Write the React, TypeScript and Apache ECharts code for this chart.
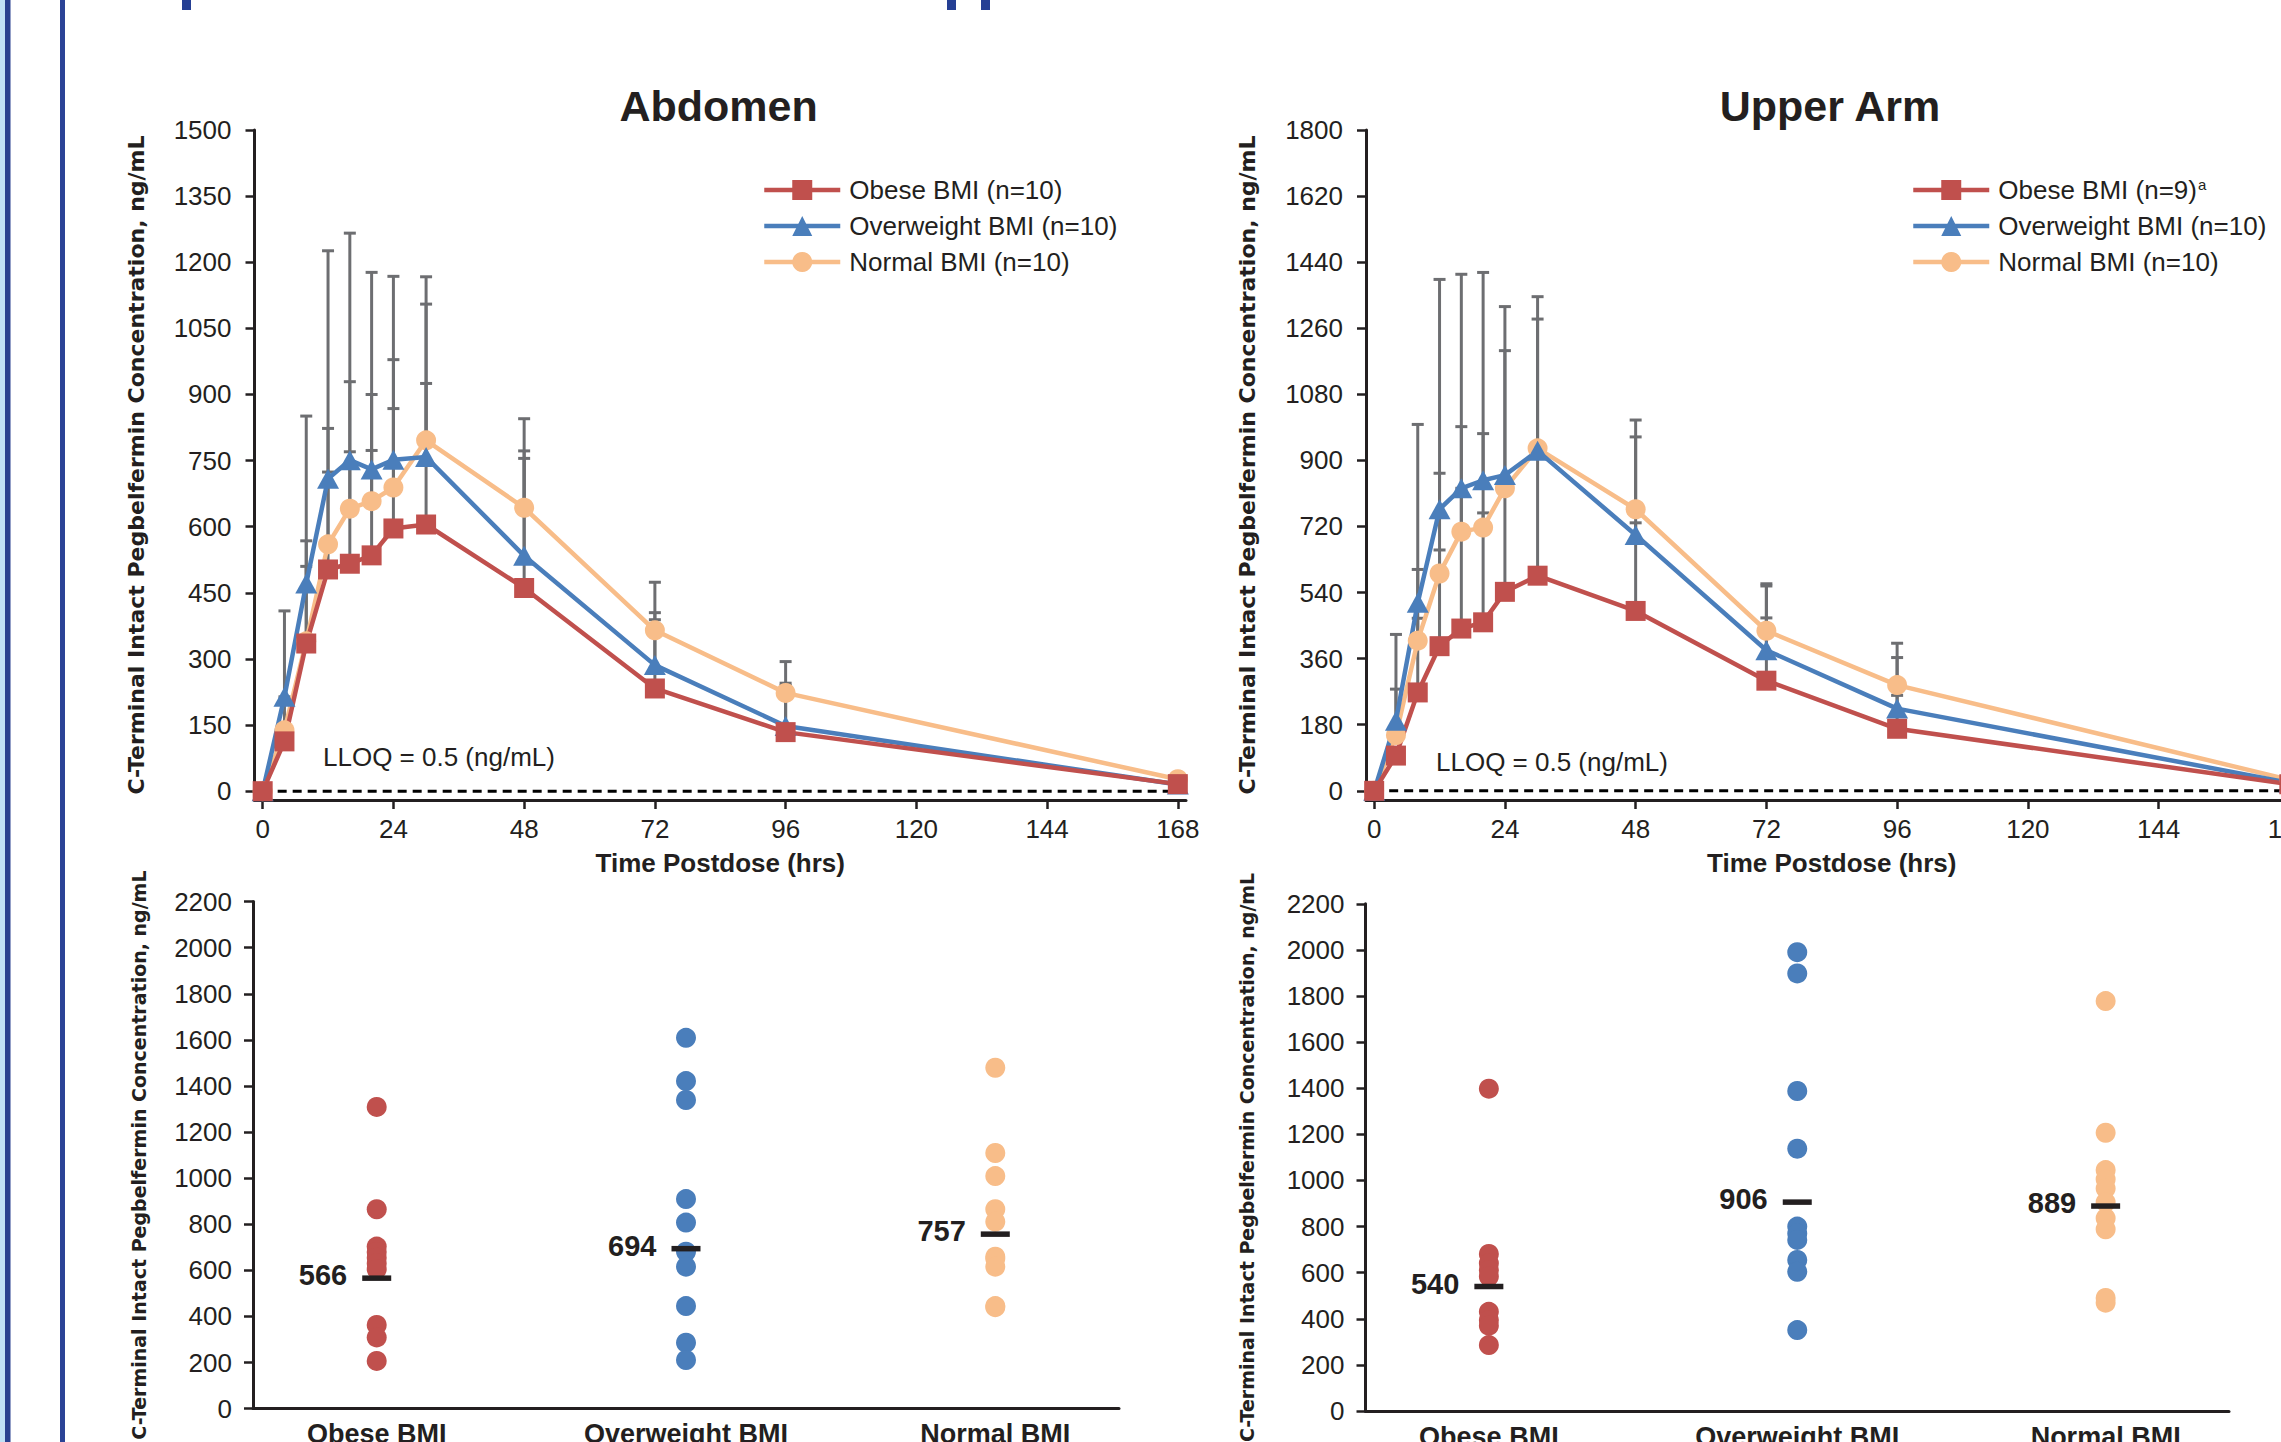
import { useEffect, useRef } from 'react';
import * as echarts from 'echarts';

// ---------- data ----------
const TIME_HRS = [0, 4, 8, 12, 16, 20, 24, 30, 48, 72, 96, 168];
const TIME_TICKS = [0, 24, 48, 72, 96, 120, 144, 168];
const ABD_TICKS = [0, 150, 300, 450, 600, 750, 900, 1050, 1200, 1350, 1500];
const ARM_TICKS = [0, 180, 360, 540, 720, 900, 1080, 1260, 1440, 1620, 1800];
const STRIP_TICKS = [0, 200, 400, 600, 800, 1000, 1200, 1400, 1600, 1800, 2000, 2200];
const GROUPS = ['Obese BMI', 'Overweight BMI', 'Normal BMI'];
const LLOQ_SPAN = [0, 169.5];
const LLOQ_TEXT = 'LLOQ = 0.5 (ng/mL)';

// Abdomen mean concentration (ng/mL)
const ABD_OBESE = [0, 113, 335, 503, 516, 535, 596, 605, 461, 233, 134, 16];
const ABD_OVER = [0, 214, 471, 709, 751, 730, 752, 758, 534, 286, 148, 15];
const ABD_NORMAL = [0, 138, 340, 560, 641, 658, 689, 796, 643, 365, 223, 27];
// upper end of error bars (mean + SD)
const ABD_OBESE_TOP = [null, 214, 510, 724, 770, 773, 868, 925, 755, 389, 240, null];
const ABD_OVER_TOP = [null, 409, 851, 1226, 1266, 1177, 1168, 1167, 772, 405, 245, null];
const ABD_NORMAL_TOP = [null, null, 568, 823, 929, 900, 979, 1105, 845, 474, 294, null];

// Upper arm mean concentration (ng/mL)
const ARM_OBESE = [0, 96, 268, 394, 442, 459, 542, 586, 490, 300, 169, 18];
const ARM_OVER = [0, 191, 512, 767, 824, 846, 860, 926, 697, 383, 224, 22];
const ARM_NORMAL = [0, 152, 409, 592, 706, 717, 824, 933, 767, 436, 288, 30];
const ARM_OBESE_TOP = [null, null, 470, 656, 824, 757, 840, 930, 730, 471, 260, null];
const ARM_OVER_TOP = [null, 426, 998, 1393, 1407, 1412, 1319, 1346, 1010, 558, 363, null];
const ARM_NORMAL_TOP = [null, 277, 603, 865, 992, 973, 1199, 1285, 964, 564, 402, null];

// Individual Cmax values
const ABD_STRIP_OBESE = [1309, 865, 703, 680, 655, 630, 605, 363, 309, 207];
const ABD_STRIP_OVER = [1609, 1421, 1339, 909, 807, 681, 616, 445, 286, 211];
const ABD_STRIP_NORMAL = [1479, 1109, 1009, 865, 811, 659, 650, 616, 445, 440];
const ABD_MEANS = [566, 694, 757];

const ARM_STRIP_OBESE = [1398, 681, 641, 612, 583, 430, 395, 370, 286];
const ARM_STRIP_OVER = [1990, 1898, 1388, 1138, 800, 770, 742, 655, 604, 351];
const ARM_STRIP_NORMAL = [1778, 1207, 1045, 1005, 965, 905, 836, 788, 490, 470];
const ARM_MEANS = [540, 906, 889];

const ABD_NAMES = ['Obese BMI (n=10)', 'Overweight BMI (n=10)', 'Normal BMI (n=10)'];
const ARM_NAMES = ['Obese BMI (n=9)a', 'Overweight BMI (n=10)', 'Normal BMI (n=10)'];
const Y_TITLE = 'C-Terminal Intact Pegbelfermin Concentration, ng/mL';

// ---------- styles ----------
const FONT = '"Liberation Sans", Arial, Helvetica, sans-serif';
const TITLE_FONT = '"DejaVu Sans", "Liberation Sans", Arial, sans-serif';
const INK = '#231f20';
const RED = '#c0504d';
const BLUE = '#4a7ebb';
const ORANGE = '#f8bd89';
const GRAY = '#6d6e71';
const W = 2281;
const H = 1442;

const axisLine = { show: true, onZero: false, lineStyle: { color: INK, width: 3 } };
const plain = (v: number) => String(v);

function timeAxis(gridIndex: number) {
  return {
    type: 'value', gridIndex, min: -1.5, max: 169.5,
    axisLine,
    axisTick: { show: true, length: 9, lineStyle: { color: INK, width: 2.5 }, customValues: TIME_TICKS },
    axisLabel: { show: true, customValues: TIME_TICKS, formatter: plain, fontSize: 26, fontFamily: FONT, color: INK, margin: 16 },
    splitLine: { show: false },
    name: 'Time Postdose (hrs)', nameLocation: 'middle', nameGap: 50,
    nameTextStyle: { fontSize: 26, fontWeight: 'bold', fontFamily: FONT, color: INK },
  };
}

function concAxis(gridIndex: number, min: number, max: number, ticks: number[], nameGap: number, nameSize: number, margin: number) {
  return {
    type: 'value', gridIndex, min, max,
    axisLine,
    axisTick: { show: true, length: 9, lineStyle: { color: INK, width: 2.5 }, customValues: ticks },
    axisLabel: { show: true, customValues: ticks, formatter: plain, fontSize: 26, fontFamily: FONT, color: INK, margin },
    splitLine: { show: false },
    name: Y_TITLE, nameLocation: 'middle', nameGap,
    nameTextStyle: { fontSize: nameSize, fontWeight: 'bold', fontFamily: TITLE_FONT, color: INK },
  };
}

function groupAxis(gridIndex: number) {
  return {
    type: 'value', gridIndex, min: 0.6, max: 3.4,
    axisLine,
    axisTick: { show: false },
    axisLabel: {
      show: true, customValues: [1, 2, 3], formatter: (v: number) => GROUPS[Math.round(v) - 1],
      fontSize: 27, fontWeight: 'bold', fontFamily: FONT, color: INK, margin: 12,
    },
    splitLine: { show: false },
  };
}

function lineSeries(name: string, values: number[], color: string, symbol: string, size: any, idx: number) {
  return {
    type: 'line', name, xAxisIndex: idx, yAxisIndex: idx,
    data: TIME_HRS.map((t, i) => [t, values[i]]),
    symbol, symbolSize: size, showSymbol: true,
    lineStyle: { color, width: 4.5 }, itemStyle: { color },
    z: 4, silent: true,
  };
}

function errorSeries(values: number[], tops: (number | null)[], idx: number) {
  const data = TIME_HRS.map((t, i) => (tops[i] == null ? null : [t, values[i], tops[i]])).filter(Boolean);
  return {
    type: 'custom', xAxisIndex: idx, yAxisIndex: idx, data, z: 2, silent: true,
    encode: { x: 0, y: [1, 2] },
    renderItem: (_p: any, api: any) => {
      const a = api.coord([api.value(0), api.value(1)]);
      const b = api.coord([api.value(0), api.value(2)]);
      const style = { stroke: GRAY, lineWidth: 3 };
      return {
        type: 'group',
        children: [
          { type: 'line', shape: { x1: a[0], y1: a[1], x2: b[0], y2: b[1] }, style },
          { type: 'line', shape: { x1: b[0] - 6, y1: b[1], x2: b[0] + 6, y2: b[1] }, style },
        ],
      };
    },
  };
}

function lloqSeries(idx: number) {
  return {
    type: 'line', xAxisIndex: idx, yAxisIndex: idx,
    data: LLOQ_SPAN.map((t) => [t, 0]), symbol: 'none', silent: true, z: 1,
    lineStyle: { color: '#000', width: 3, type: [9, 6] },
  };
}

function stripSeries(values: number[], cat: number, color: string, idx: number) {
  return {
    type: 'scatter', xAxisIndex: idx, yAxisIndex: idx,
    data: values.map((v) => [cat, v]), symbol: 'circle', symbolSize: 20,
    itemStyle: { color, opacity: 1 }, z: 3, silent: true,
  };
}

function meanSeries(means: number[], idx: number) {
  return {
    type: 'scatter', xAxisIndex: idx, yAxisIndex: idx,
    data: means.map((m, i) => [i + 1, m]), symbol: 'rect', symbolSize: [29, 5.5],
    itemStyle: { color: INK, opacity: 1 }, z: 6, silent: true,
    label: {
      show: true, position: 'left', distance: 15, offset: [0, -3],
      formatter: (p: any) => String(p.value[1]),
      fontSize: 29, fontWeight: 'bold', fontFamily: FONT, color: INK,
    },
  };
}

function legend(left: number, names: string[]) {
  return {
    left, top: 172, orient: 'vertical', itemWidth: 76, itemHeight: 25, itemGap: 10,
    selectedMode: false, data: names,
    lineStyle: { width: 4.5 },
    formatter: (n: string) => (n.endsWith(')a') ? '{b|' + n.slice(0, -1) + '}{s|a}' : n),
    textStyle: {
      fontSize: 26, fontFamily: FONT, color: INK, lineHeight: 26, padding: [0, 0, 0, 4],
      rich: {
        b: { fontSize: 26, fontFamily: FONT, color: INK, lineHeight: 26 },
        s: { fontSize: 15, fontFamily: FONT, color: INK, verticalAlign: 'top', lineHeight: 26, padding: [0, 0, 8, 1] },
      },
    },
  };
}

function text(x: number, y: number, str: string, size: number, bold: boolean, align = 'center') {
  return {
    type: 'text', x, y, silent: true,
    style: {
      text: str, fontSize: size, fontWeight: bold ? 'bold' : 'normal', fontFamily: FONT,
      fill: INK, align, verticalAlign: 'middle',
    },
  };
}

function rect(x: number, y: number, w: number, h: number, fill: string) {
  return { type: 'rect', silent: true, shape: { x, y, width: w, height: h }, style: { fill } };
}

export default function App() {
  const ref = useRef<HTMLDivElement>(null);
  useEffect(() => {
    document.body.style.margin = '0';
    document.body.style.overflow = 'hidden';
    const chart = echarts.init(ref.current!, undefined, { renderer: 'svg' });
    chart.setOption({
      animation: false,
      backgroundColor: '#ffffff',
      textStyle: { fontFamily: FONT },
      grid: [
        { left: 254.5, top: 130, width: 931.5, height: 670, outerBoundsMode: 'none' },
        { left: 1366, top: 130, width: 931.5, height: 670, outerBoundsMode: 'none' },
        { left: 253, top: 901.6, width: 866, height: 507, outerBoundsMode: 'none' },
        { left: 1365.5, top: 903.8, width: 863.5, height: 507.2, outerBoundsMode: 'none' },
      ],
      xAxis: [timeAxis(0), timeAxis(1), groupAxis(2), groupAxis(3)],
      yAxis: [
        concAxis(0, -20, 1500, ABD_TICKS, 107, 22, 23),
        concAxis(1, -25, 1800, ARM_TICKS, 108, 22, 23),
        concAxis(2, 0, 2200, STRIP_TICKS, 105, 19, 21),
        concAxis(3, 0, 2200, STRIP_TICKS, 109, 19, 21),
      ],
      legend: [legend(757, ABD_NAMES), legend(1906, ARM_NAMES)],
      series: [
        lloqSeries(0),
        errorSeries(ABD_NORMAL, ABD_NORMAL_TOP, 0),
        errorSeries(ABD_OVER, ABD_OVER_TOP, 0),
        errorSeries(ABD_OBESE, ABD_OBESE_TOP, 0),
        lineSeries(ABD_NAMES[2], ABD_NORMAL, ORANGE, 'circle', 20, 0),
        lineSeries(ABD_NAMES[1], ABD_OVER, BLUE, 'triangle', [22, 20], 0),
        lineSeries(ABD_NAMES[0], ABD_OBESE, RED, 'rect', 20, 0),

        lloqSeries(1),
        errorSeries(ARM_NORMAL, ARM_NORMAL_TOP, 1),
        errorSeries(ARM_OVER, ARM_OVER_TOP, 1),
        errorSeries(ARM_OBESE, ARM_OBESE_TOP, 1),
        lineSeries(ARM_NAMES[2], ARM_NORMAL, ORANGE, 'circle', 20, 1),
        lineSeries(ARM_NAMES[1], ARM_OVER, BLUE, 'triangle', [22, 20], 1),
        lineSeries(ARM_NAMES[0], ARM_OBESE, RED, 'rect', 20, 1),

        stripSeries(ABD_STRIP_OBESE, 1, RED, 2),
        stripSeries(ABD_STRIP_OVER, 2, BLUE, 2),
        stripSeries(ABD_STRIP_NORMAL, 3, ORANGE, 2),
        meanSeries(ABD_MEANS, 2),

        stripSeries(ARM_STRIP_OBESE, 1, RED, 3),
        stripSeries(ARM_STRIP_OVER, 2, BLUE, 3),
        stripSeries(ARM_STRIP_NORMAL, 3, ORANGE, 3),
        meanSeries(ARM_MEANS, 3),
      ],
      graphic: [
        rect(0, 0, 5, H, '#bfe1f5'),
        rect(5, 0, 5.5, H, '#28418f'),
        rect(60, 0, 5, H, '#2b4396'),
        rect(182, 0, 9, 10, '#253f94'),
        rect(947, 0, 9, 10, '#253f94'),
        rect(981, 0, 9, 10, '#253f94'),
        text(718.6, 106, 'Abdomen', 43, true),
        text(1830, 106, 'Upper Arm', 43, true),
        text(323, 756.5, LLOQ_TEXT, 26, false, 'left'),
        text(1436, 762, LLOQ_TEXT, 26, false, 'left'),
      ],
    });
    return () => chart.dispose();
  }, []);
  return <div ref={ref} style={{ width: W, height: H }} />;
}
